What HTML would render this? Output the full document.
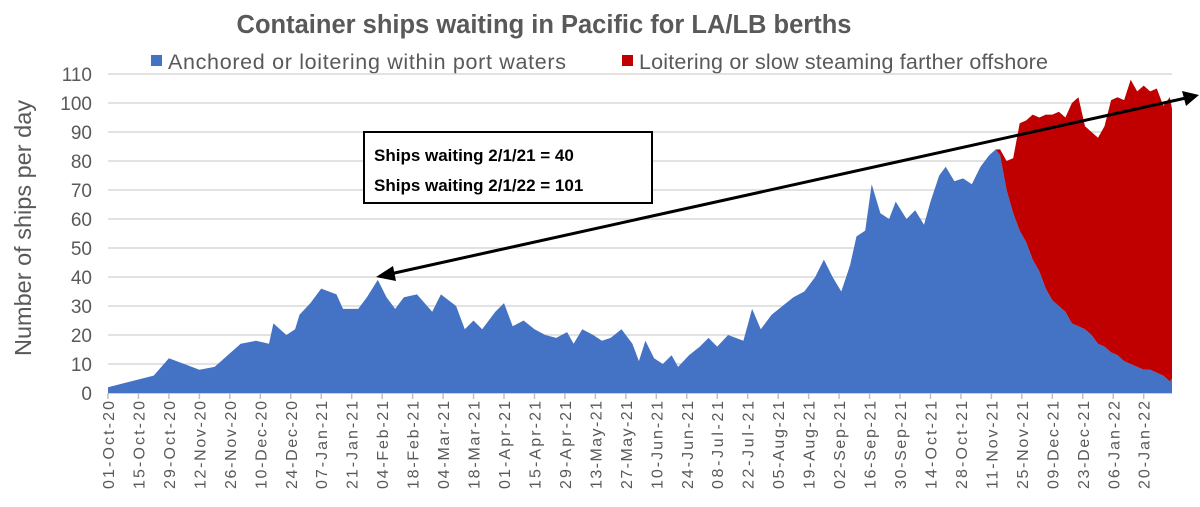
<!DOCTYPE html>
<html><head><meta charset="utf-8"><style>
body{margin:0;background:#fff;font-family:"Liberation Sans",sans-serif}
svg{display:block}
</style></head><body>
<svg id="chart" width="1200" height="507" viewBox="0 0 1200 507" xmlns="http://www.w3.org/2000/svg">
<text x="544" y="33" text-anchor="middle" font-size="25.5" font-weight="bold" fill="#595959" font-family="Liberation Sans, sans-serif">Container ships waiting in Pacific for LA/LB berths</text>
<g>
<rect x="151" y="55" width="11" height="11" fill="#4472c4"/>
<text x="168" y="69" font-size="21.5" fill="#595959" textLength="398">Anchored or loitering within port waters</text>
<rect x="622" y="55" width="11" height="11" fill="#c00000"/>
<text x="639" y="69" font-size="21.5" fill="#595959" textLength="409">Loitering or slow steaming farther offshore</text>
</g>
<text transform="translate(31,228) rotate(-90)" text-anchor="middle" font-size="23.5" fill="#595959">Number of ships per day</text>
<g id="grid"></g><g id="yticks"></g><g id="areas"></g><g id="xaxis"></g>
<g>
<rect x="364" y="132" width="288" height="71" fill="#fff" stroke="#000" stroke-width="2"/>
<text x="374" y="161" font-size="17" font-weight="bold">Ships waiting 2/1/21 = 40</text>
<text x="374" y="191" font-size="17" font-weight="bold">Ships waiting 2/1/22 = 101</text>
</g>
<g>
<line x1="390" y1="274" x2="1186" y2="98" stroke="#000" stroke-width="3"/>
<polygon points="376,277 393,266 396,281" fill="#000"/>
<polygon points="1199,95 1182,91 1186,106" fill="#000"/>
</g>
</svg>
<script>
const days=[0,21,28,35,42,49,61,68,74,76,82,86,88,93,98,105,108,115,119,124,128,132,136,142,149,153,160,164,168,172,178,182,186,191,196,201,206,211,214,218,223,227,231,236,241,244,247,251,255,259,262,267,272,276,280,285,292,296,300,305,310,315,320,325,329,333,337,341,344,348,351,355,359,362,367,371,375,378,382,385,389,393,397,401,405,408,
410,413,416,419,422,425,428,431,434,437,440,443,446,449,452,455,458,461,464,467,470,473,476,479,482,485,488,489];
const blueVals=[2,6,12,10,8,9,17,18,17,24,20,22,27,31,36,34,29,29,33,39,33,29,33,34,28,34,30,22,25,22,28,31,23,25,22,20,19,21,17,22,20,18,19,22,17,11,18,12,10,13,9,13,16,19,16,20,18,29,22,27,30,33,35,40,46,40,35,44,54,56,72,62,60,66,60,63,58,66,75,78,73,74,72,78,82,84,
82,70,62,56,52,46,42,36,32,30,28,24,23,22,20,17,16,14,13,11,10,9,8,8,7,6,4,5];
const redVals=[
0,0,0,0,0,0,0,0,0,0,
0,0,0,0,0,0,0,0,0,0,
0,0,0,0,0,0,0,0,0,0,
0,0,0,0,0,0,0,0,0,0,
0,0,0,0,0,0,0,0,0,0,
0,0,0,0,0,0,0,0,0,0,
0,0,0,0,0,0,0,0,0,0,
0,0,0,0,0,0,0,0,0,0,
0,0,0,0,0,0,
2,10,19,37,42,50,53,60,64,67,67,76,79,70,70,71,76,87,89,90,98,95,98,96,98,93,98,93];
const yTicks=[0,10,20,30,40,50,60,70,80,90,100,110];
const xLabels=["01-Oct-20","15-Oct-20","29-Oct-20","12-Nov-20","26-Nov-20","10-Dec-20","24-Dec-20","07-Jan-21","21-Jan-21","04-Feb-21","18-Feb-21","04-Mar-21","18-Mar-21","01-Apr-21","15-Apr-21","29-Apr-21","13-May-21","27-May-21","10-Jun-21","24-Jun-21","08-Jul-21","22-Jul-21","05-Aug-21","19-Aug-21","02-Sep-21","16-Sep-21","30-Sep-21","14-Oct-21","28-Oct-21","11-Nov-21","25-Nov-21","09-Dec-21","23-Dec-21","06-Jan-22","20-Jan-22"];
(function(){
const NS="http://www.w3.org/2000/svg";
const X0=108,X1=1172,DMAX=489,Y0=393,Y1=74,VMAX=110;
const xs=d=>X0+(X1-X0)*d/DMAX;
const ys=v=>Y0-(Y0-Y1)*v/VMAX;
function mk(t,a,p){const e=document.createElementNS(NS,t);for(const k in a)e.setAttribute(k,a[k]);p.appendChild(e);return e;}
const grid=document.getElementById('grid'),yt=document.getElementById('yticks');
yTicks.forEach(v=>{
 const l=mk('line',{x1:X0,x2:X1,y1:ys(v),y2:ys(v),stroke:v===0?'#bfbfbf':'#d9d9d9','stroke-width':1.5},grid);
 
 
 const t=mk('text',{x:92,y:ys(v)+7,'text-anchor':'end','font-size':19,fill:'#595959'},yt);
 t.textContent=v;
 
 
});
const areas=document.getElementById('areas');
let bp='M'+xs(days[0])+','+Y0;
days.forEach((d,i)=>{bp+=' L'+xs(d).toFixed(1)+','+ys(blueVals[i]).toFixed(1);});
bp+=' L'+xs(days[days.length-1])+','+Y0+' Z';
const ba=mk('path',{d:bp,fill:'#4472c4'},areas);


const upper=[],lower=[];
days.forEach((d,i)=>{const r=redVals[i]||0;const nr=(i+1<days.length)?(redVals[i+1]||0):0;if(r>0||nr>0){upper.push(xs(d).toFixed(1)+','+ys(blueVals[i]+r).toFixed(1));lower.unshift(xs(d).toFixed(1)+','+ys(blueVals[i]).toFixed(1));}});
const ra=mk('path',{d:'M'+upper.join(' L')+' L'+lower.join(' L')+' Z',fill:'#c00000'},areas);


const xa=document.getElementById('xaxis');
xLabels.forEach((s,i)=>{
 const x=xs(i*14);
 const tk=mk('line',{x1:x,x2:x,y1:Y0,y2:Y0+6,stroke:'#bfbfbf','stroke-width':1.5},xa);
 
 
 const t=mk('text',{transform:'translate('+(x+6)+','+(Y0+8)+') rotate(-90)','text-anchor':'end','font-size':16,fill:'#595959',textLength:88,lengthAdjust:'spacing'},xa);
 t.textContent=s;
 
 
});
})();
</script>
</body></html>
